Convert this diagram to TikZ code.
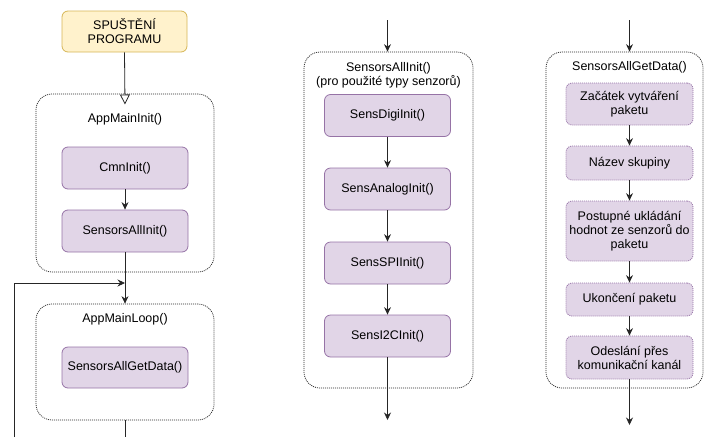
\documentclass[tikz,border=0pt]{standalone}
\usepackage{fontspec}
\setmainfont{Liberation Sans}
\usetikzlibrary{arrows.meta}

\definecolor{startfill}{HTML}{FFF2CC}
\definecolor{startline}{HTML}{D6B656}
\definecolor{procfill}{HTML}{E1D5E7}
\definecolor{procline}{HTML}{9673A6}

\tikzset{
  every node/.style={font=\fontsize{12.5}{14}\selectfont, inner sep=0pt, align=center},
  startbox/.style={draw=startline, fill=startfill, line width=0.8pt, rounded corners=6pt,
    minimum width=125pt, minimum height=41pt},
  procbox/.style={draw=procline, fill=procfill, line width=0.8pt, rounded corners=6pt,
    minimum width=126pt},
  dotbox/.style={procbox, dash pattern=on 1pt off 1pt},
  groupbox/.style={draw=black!85, dash pattern=on 1pt off 1pt, line width=0.75pt,
    rounded corners=16pt},
  flow/.style={draw=black!85, line width=0.8pt, -{Stealth[length=7.5pt,width=7pt,inset=2.5pt]}},
  plain/.style={draw=black!85, line width=0.8pt},
  openflow/.style={draw=black!85, line width=0.8pt, -{Triangle[open,length=10pt,width=10pt,fill=white]}}
}

\begin{document}
\begin{tikzpicture}[x=1pt,y=-1pt]
\useasboundingbox (0,0) rectangle (704,437);

% ---------- main program ----------
\node[startbox] (start) at (124.5,31.5) {SPUŠTĚNÍ\\PROGRAMU};

\node[groupbox, minimum width=178pt, minimum height=178pt] (initgrp) at (125,183) {};
\node (initlbl) at (125,119) {AppMainInit()};
\node[procbox, minimum height=42pt] (cmn) at (125,168) {CmnInit()};
\node[procbox, minimum height=42pt] (sai) at (125,231) {SensorsAllInit()};

\node[groupbox, minimum width=178pt, minimum height=116pt] (loopgrp) at (125,362) {};
\node (looplbl) at (125,319) {AppMainLoop()};
\node[procbox, minimum height=41pt] (sagd) at (125,367.5) {SensorsAllGetData()};

\coordinate (tri) at (125,104.5);
\coordinate (merge) at (125,283);
\coordinate (back) at (14,437);
\coordinate (mainend) at (125,437);

\draw[openflow] (start.south) -- (tri);
\draw[flow] (cmn) -- (sai);
\draw[flow] (sai.south) -- (loopgrp.north);
\draw[flow] (back) |- (merge);
\draw[plain] (loopgrp.south) -- (mainend);

% ---------- SensorsAllInit() ----------
\node[groupbox, minimum width=169pt, minimum height=336pt] (initall) at (388.5,220) {};
\node (initalllbl) at (388.5,75) {SensorsAllInit()\\(pro použité typy senzorů)};
\node[procbox, minimum height=42pt] (digi) at (387.5,115.5) {SensDigiInit()};
\node[procbox, minimum height=42pt] (analog) at (387.5,189) {SensAnalogInit()};
\node[procbox, minimum height=42pt] (spi) at (387.5,263) {SensSPIInit()};
\node[procbox, minimum height=42pt] (itwoc) at (387.5,336) {SensI2CInit()};

\coordinate (midin) at (387.5,20);
\coordinate (midout) at (387.5,420);
\draw[flow] (midin) -- (midin |- initall.north);
\draw[flow] (digi) -- (analog);
\draw[flow] (analog) -- (spi);
\draw[flow] (spi) -- (itwoc);
\draw[flow] (itwoc.south) -- (midout);

% ---------- SensorsAllGetData() ----------
\node[groupbox, minimum width=157pt, minimum height=336pt] (getall) at (624.5,220) {};
\node (getalllbl) at (629.5,67) {SensorsAllGetData()};
\node[dotbox, minimum width=127pt, minimum height=42pt] (pkstart) at (629.5,104) {Začátek vytváření\\paketu};
\node[dotbox, minimum width=127pt, minimum height=34pt] (group) at (629.5,163) {Název skupiny};
\node[dotbox, minimum width=127pt, minimum height=60pt] (store) at (629.5,231) {Postupné ukládání\\hodnot ze senzorů do\\paketu};
\node[dotbox, minimum width=127pt, minimum height=33pt] (pkend) at (629.5,299.5) {Ukončení paketu};
\node[dotbox, minimum width=127pt, minimum height=43pt] (send) at (629.5,357.5) {Odeslání přes\\komunikační kanál};

\coordinate (rin) at (629.5,20);
\coordinate (rout) at (629.5,425);
\draw[flow] (rin) -- (rin |- getall.north);
\draw[flow] (pkstart) -- (group);
\draw[flow] (group) -- (store);
\draw[flow] (store) -- (pkend);
\draw[flow] (pkend) -- (send);
\draw[flow] (send.south) -- (rout);
\end{tikzpicture}
\end{document}
